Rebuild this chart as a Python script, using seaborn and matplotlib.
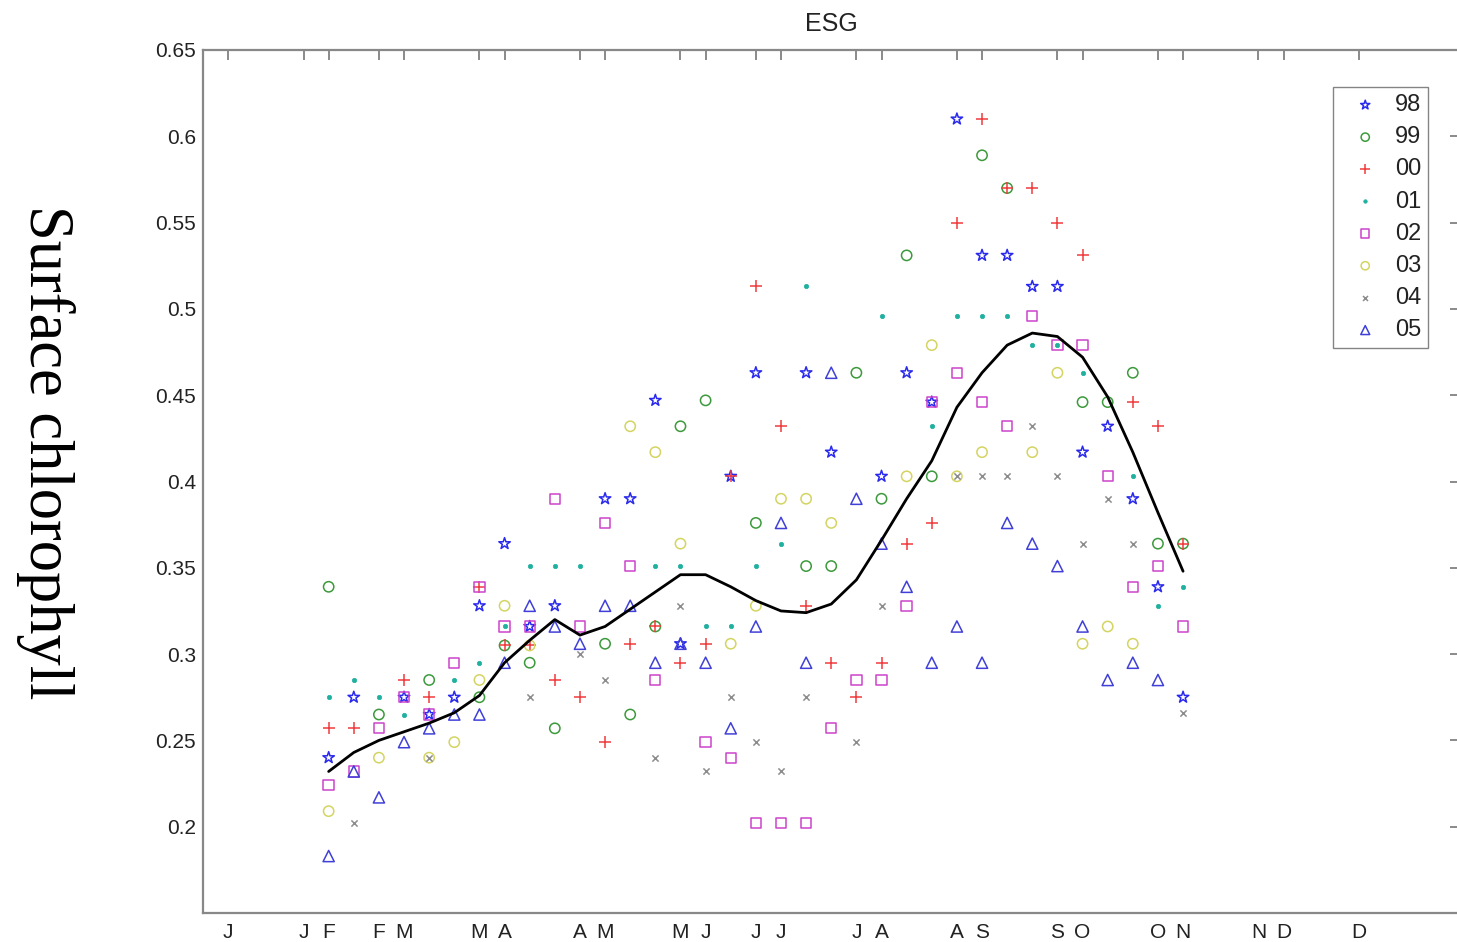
import numpy as np
import pandas as pd
import matplotlib
matplotlib.use("Agg")
import matplotlib.pyplot as plt
import seaborn as sns

nan = np.nan

# 8-day composite index (x axis), points cover composites 5..39
composites = list(range(5, 40))

# surface chlorophyll per year, one value per composite (nan = no point)
y98 = [0.240, 0.275, nan, 0.275, 0.265, 0.275, 0.328, 0.364, 0.316, 0.328, nan, 0.390,
       0.390, 0.447, 0.306, nan, 0.403, 0.463, nan, 0.463, 0.417, nan, 0.403, 0.463,
       0.446, 0.610, 0.531, 0.531, 0.513, 0.513, 0.417, 0.432, 0.390, 0.339, 0.275]
y99 = [0.339, nan, 0.265, nan, 0.285, nan, 0.275, 0.305, 0.295, 0.257, nan, 0.306,
       0.265, 0.316, 0.432, 0.447, nan, 0.376, nan, 0.351, 0.351, 0.463, 0.390, 0.531,
       0.403, nan, 0.589, 0.570, nan, nan, 0.446, 0.446, 0.463, 0.364, 0.364]
y00 = [0.257, 0.257, nan, 0.285, 0.275, nan, 0.339, 0.305, 0.305, 0.285, 0.275, 0.249,
       0.306, 0.316, 0.295, 0.306, 0.403, 0.513, 0.432, 0.328, 0.295, 0.275, 0.295, 0.364,
       0.376, 0.550, 0.610, 0.570, 0.570, 0.550, 0.531, nan, 0.446, 0.432, 0.364]
y01 = [0.275, 0.285, 0.275, 0.265, nan, 0.285, 0.295, 0.316, 0.351, 0.351, 0.351, nan,
       nan, 0.351, 0.351, 0.316, 0.316, 0.351, 0.364, 0.513, nan, nan, 0.496, nan,
       0.432, 0.496, 0.496, 0.496, 0.479, 0.479, 0.463, nan, 0.403, 0.328, 0.339]
y02 = [0.224, 0.232, 0.257, 0.275, 0.265, 0.295, 0.339, 0.316, 0.316, 0.390, 0.316, 0.376,
       0.351, 0.285, nan, 0.249, 0.240, 0.202, 0.202, 0.202, 0.257, 0.285, 0.285, 0.328,
       0.446, 0.463, 0.446, 0.432, 0.496, 0.479, 0.479, 0.403, 0.339, 0.351, 0.316]
y03 = [0.209, nan, 0.240, nan, 0.240, 0.249, 0.285, 0.328, 0.305, nan, nan, nan,
       0.432, 0.417, 0.364, nan, 0.306, 0.328, 0.390, 0.390, 0.376, nan, nan, 0.403,
       0.479, 0.403, 0.417, nan, 0.417, 0.463, 0.306, 0.316, 0.306, nan, nan]
y04 = [nan, 0.202, nan, nan, 0.240, nan, nan, nan, 0.275, nan, 0.300, 0.285,
       nan, 0.240, 0.328, 0.232, 0.275, 0.249, 0.232, 0.275, nan, 0.249, 0.328, nan,
       nan, 0.403, 0.403, 0.403, 0.432, 0.403, 0.364, 0.390, 0.364, nan, 0.266]
y05 = [0.183, 0.232, 0.217, 0.249, 0.257, 0.265, 0.265, 0.295, 0.328, 0.316, 0.306, 0.328,
       0.328, 0.295, 0.306, 0.295, 0.257, 0.316, 0.376, 0.295, 0.463, 0.390, 0.364, 0.339,
       0.295, 0.316, 0.295, 0.376, 0.364, 0.351, 0.316, 0.285, 0.295, 0.285, nan]

# mean curve
clim = [0.232, 0.243, 0.250, 0.255, 0.260, 0.266, 0.276, 0.295, 0.308, 0.320, 0.311, 0.316,
        0.326, 0.336, 0.346, 0.346, 0.339, 0.331, 0.325, 0.324, 0.329, 0.343, 0.366, 0.390,
        0.412, 0.443, 0.463, 0.479, 0.486, 0.484, 0.472, 0.449, 0.417, 0.382, 0.348]

years = ["98", "99", "00", "01", "02", "03", "04", "05"]
series = [y98, y99, y00, y01, y02, y03, y04, y05]

xtick_pos = [1, 4, 5, 7, 8, 11, 12, 15, 16, 19, 20, 22, 23, 26, 27, 30, 31, 34, 35, 38,
             39, 42, 43, 46]
xtick_lab = ["J", "J", "F", "F", "M", "M", "A", "A", "M", "M", "J", "J", "J", "J", "A",
             "A", "S", "S", "O", "O", "N", "N", "D", "D"]
ytick_pos = [0.2, 0.25, 0.3, 0.35, 0.4, 0.45, 0.5, 0.55, 0.6, 0.65]

# marker, colour, open marker?, size (matlab-ish)
styles = {
    "98": ("*", "#2a2aee", True, 75),
    "99": ("o", "#3c9a3c", True, 55),
    "00": ("+", "#f03c3c", False, 80),
    "01": (".", "#20b0a0", True, 40),
    "02": ("s", "#cc44cc", True, 55),
    "03": ("o", "#d4d462", True, 55),
    "04": ("x", "#8c8c8c", False, 20),
    "05": ("^", "#4040d8", True, 65),
}

sns.set_theme(style="white")
plt.rcParams["font.family"] = ["Liberation Sans", "DejaVu Sans"]

fig = plt.figure(figsize=(14.57, 9.42), dpi=100)
ax = fig.add_axes([203 / 1457, 29 / 942, 1256.5 / 1457, 863 / 942])

for yr, vals in zip(years, series):
    df = pd.DataFrame({"comp": composites, "chl": vals}).dropna()
    m, c, fillable, s = styles[yr]
    if m == ".":
        sns.scatterplot(data=df, x="comp", y="chl", ax=ax, marker="o", s=10,
                        color=c, edgecolor=c, linewidth=0.5, label=yr)
    elif fillable:
        sns.scatterplot(data=df, x="comp", y="chl", ax=ax, marker=m, s=s,
                        facecolor="none", edgecolor=c, linewidth=1.1, label=yr)
    else:
        sns.scatterplot(data=df, x="comp", y="chl", ax=ax, marker=m, s=s,
                        color=c, linewidth=1.1, label=yr)

sns.lineplot(x=composites, y=clim, ax=ax, color="black", linewidth=2.0, legend=False)

ax.set_xlim(0, 50)
ax.set_ylim(0.15, 0.65)
ax.set_xticks(xtick_pos)
ax.set_xticklabels(xtick_lab)
ax.set_yticks(ytick_pos)
ax.set_yticklabels(["%g" % v for v in ytick_pos])
ax.tick_params(direction="in", top=True, right=True, length=7, width=1.2,
               colors="#777777", labelcolor="#222222", labelsize=15)
ax.tick_params(axis="x", pad=7)
ax.tick_params(axis="y", pad=5)
for sp in ax.spines.values():
    sp.set_color("#888888")
    sp.set_linewidth(1.6)
ax.set_xlabel("")
ax.set_ylabel("")
ax.set_title("ESG", fontsize=18, color="#222222", pad=14)

fig.text(45 / 1457, 1 - 452 / 942, "Surface chlorophyll", rotation=270,
         ha="center", va="center", fontsize=45, family=["Liberation Serif"],
         color="black")

leg = ax.legend(loc="upper right", bbox_to_anchor=(0.975, 0.957), borderaxespad=0,
                fontsize=17, labelspacing=0.43, handlelength=2.1, handletextpad=0.2,
                borderpad=0.3, frameon=True, fancybox=False, markerscale=0.8)
leg.get_frame().set_edgecolor("#666666")
leg.get_frame().set_linewidth(1.0)
for t in leg.get_texts():
    t.set_color("#222222")

fig.savefig("out.png", dpi=100)
